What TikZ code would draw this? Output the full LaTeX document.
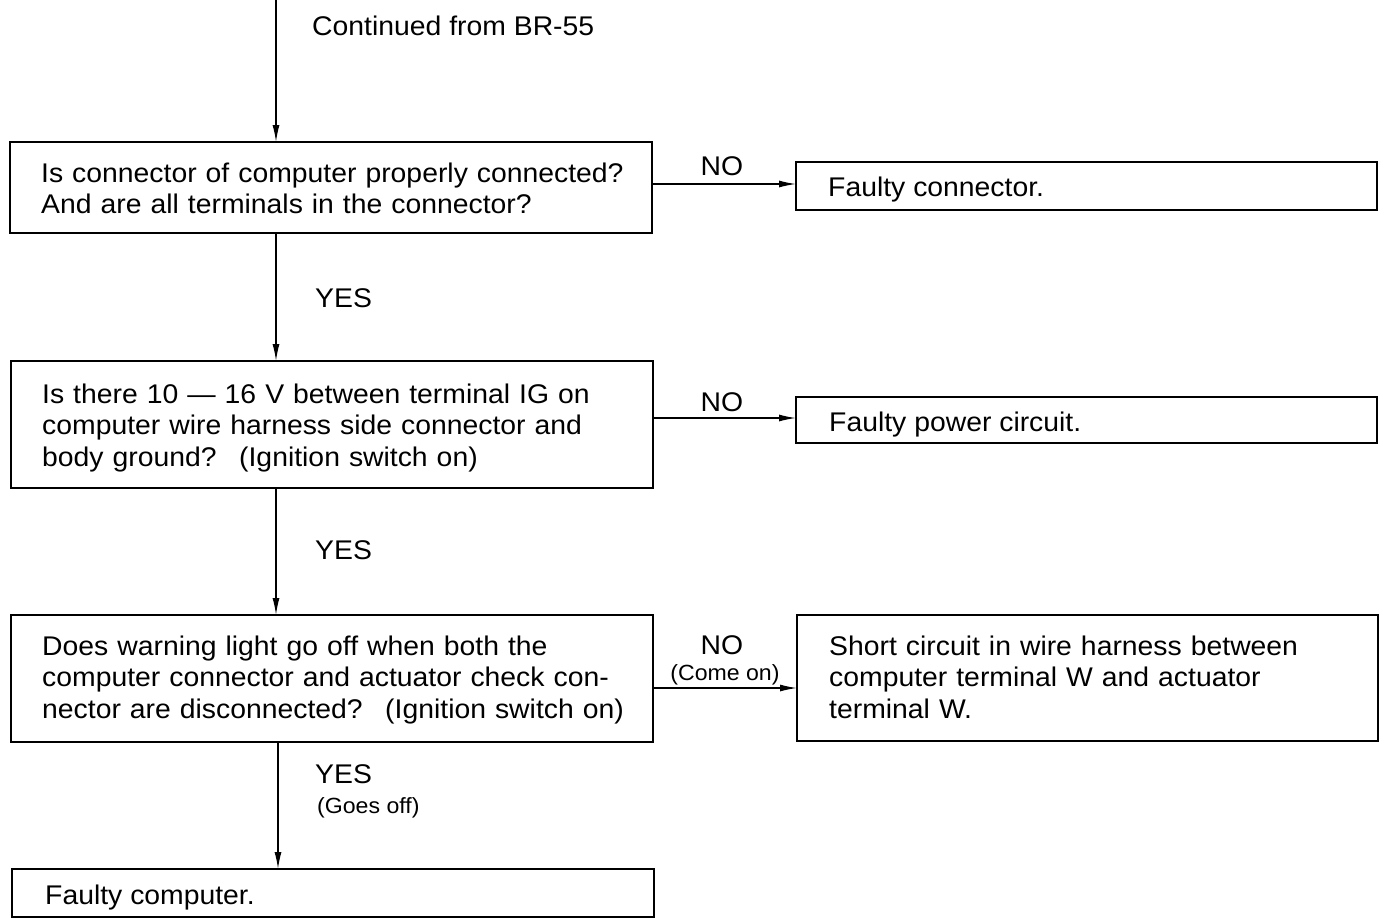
\documentclass[tikz,border=0pt]{standalone}
\usepackage{fontspec}
\setmainfont{Liberation Sans}[FakeStretch=1.05]
\usetikzlibrary{arrows.meta}
\begin{document}
\begin{tikzpicture}[x=1pt,y=-1pt,
  box/.style={draw,line width=1.4pt,rectangle,inner sep=0pt,outer sep=0pt},
  arr/.style={line width=1.3pt,-{Latex[length=17pt,width=7pt]}},
  txt/.style={anchor=base west,inner sep=0pt,align=left,text width=700pt,
    font=\fontsize{27}{31.5}\selectfont},
  lbl/.style={anchor=base west,inner sep=0pt,font=\fontsize{27}{31.5}\selectfont},
  small/.style={anchor=base west,inner sep=0pt,font=\fontsize{22}{26}\selectfont}]
\useasboundingbox (0,0) rectangle (1386,918);
% boxes
\node[box,minimum width=642pt,minimum height=91pt] (b1) at (331,187.5) {};
\node[box,minimum width=581pt,minimum height=48pt] (f1) at (1086.5,186) {};
\node[box,minimum width=642pt,minimum height=127pt] (b2) at (332,424.5) {};
\node[box,minimum width=581pt,minimum height=46pt] (f2) at (1086.5,420) {};
\node[box,minimum width=642pt,minimum height=127pt] (b3) at (332,678.5) {};
\node[box,minimum width=581pt,minimum height=126pt] (f3) at (1087.5,678) {};
\node[box,minimum width=642pt,minimum height=48pt] (b4) at (333,893) {};
% texts
\node[lbl] (tc) at (312,35) {Continued from BR-55};
\node[txt] (t1) at (41,182) {Is connector of computer properly connected?\\And are all terminals in the connector?};
\node[lbl] (tf1) at (828,196) {Faulty connector.};
\node[txt] (t2) at (42,403) {Is there 10 --- 16 V between terminal IG on\\computer wire harness side connector and\\body ground?~ (Ignition switch on)};
\node[lbl] (tf2) at (829,431) {Faulty power circuit.};
\node[txt] (t3) at (42,655) {Does warning light go off when both the\\computer connector and actuator check con-\\nector are disconnected?~ (Ignition switch on)};
\node[txt] (tf3) at (829,655) {Short circuit in wire harness between\\computer terminal W and actuator\\terminal W.};
\node[lbl] (tf4) at (45,904) {Faulty computer.};
% labels
\node[lbl] (y1) at (315,307) {YES};
\node[lbl] (y2) at (315,559) {YES};
\node[lbl] (y3) at (315,783) {YES};
\node[small] (g3) at (317,813) {(Goes off)};
\node[lbl,anchor=base] (n1) at (722,175) {NO};
\node[lbl,anchor=base] (n2) at (722,411) {NO};
\node[lbl,anchor=base] (n3) at (722,654) {NO};
\node[small,anchor=base] (c3) at (725,680) {(Come on)};
% connectors
\coordinate (start) at (276,0);
\draw[arr] (start) -- (start |- b1.north);
\draw[arr] (start |- b1.south) -- (start |- b2.north);
\draw[arr] (start |- b2.south) -- (start |- b3.north);
\coordinate (s2) at (278,0);
\draw[arr] (s2 |- b3.south) -- (s2 |- b4.north);
\coordinate (r1) at ([yshift=2pt]f1.west);
\coordinate (r2) at ([yshift=2pt]f2.west);
\coordinate (r3) at ([yshift=-10pt]f3.west);
\draw[arr] (b1.east |- r1) -- (r1);
\draw[arr] (b2.east |- r2) -- (r2);
\draw[arr] (b3.east |- r3) -- (r3);
\end{tikzpicture}
\end{document}
